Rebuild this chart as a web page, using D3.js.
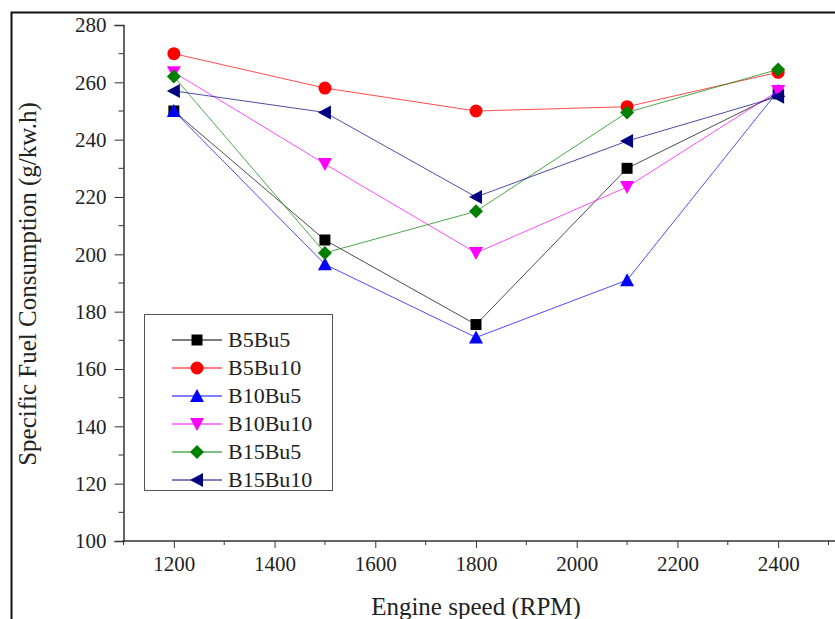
<!DOCTYPE html>
<html>
<head>
<meta charset="utf-8">
<script src="https://cdn.jsdelivr.net/npm/d3@7"></script>
<style>
  body { margin: 0; background: #fff; }
  text { font-family: "Liberation Serif", "Times New Roman", serif; fill: #222; }
</style>
</head>
<body>
<div id="chart-area"></div>
<script>
// data
var speeds = [1200, 1500, 1800, 2100, 2400];
var seriesNames = ['B5Bu5', 'B5Bu10', 'B10Bu5', 'B10Bu10', 'B15Bu5', 'B15Bu10'];
var b5bu5 = [250, 205, 175.5, 230, 256];
var b5bu10 = [270, 258, 250, 251.5, 263.5];
var b10bu5 = [250, 196.5, 171, 191, 257];
var b10bu10 = [263.5, 231.5, 200.5, 223.5, 257];
var b15bu5 = [262, 200.5, 215, 249.5, 264.5];
var b15bu10 = [257, 249.5, 220, 239.5, 255];
var xTicks = [1200, 1400, 1600, 1800, 2000, 2200, 2400];
var yTicks = [100, 120, 140, 160, 180, 200, 220, 240, 260, 280];

var colors = ['#000000', '#ff0000', '#0000ff', '#ff00ff', '#008000', '#000080'];
var symbols = ['square', 'circle', 'up', 'down', 'diamond', 'left'];

var series = [b5bu5, b5bu10, b10bu5, b10bu10, b15bu5, b15bu10].map(function(vals, i) {
  return {
    name: seriesNames[i],
    color: colors[i],
    symbol: symbols[i],
    values: vals.map(function(v, j) { return { x: speeds[j], y: v }; })
  };
});

var W = 835, H = 619;

var svg = d3.select('#chart-area')
  .append('svg')
  .attr('width', W)
  .attr('height', H);

// outer frame
svg.append('rect')
  .attr('x', 11.5)
  .attr('y', 12.5)
  .attr('width', W)
  .attr('height', H)
  .attr('fill', 'none')
  .attr('stroke', '#111')
  .attr('stroke-width', 2);

var x = d3.scaleLinear()
  .domain([1100, 2500])
  .range([123.5, 828.5]);

var y = d3.scaleLinear()
  .domain([100, 280])
  .range([541, 25]);

// minor ticks
var xMinor = d3.range(1100, 2501, 100).filter(function(d) { return d % 200 !== 0; });
var yMinor = d3.range(110, 280, 20);

var gx = svg.append('g')
  .attr('transform', 'translate(0,' + y(100) + ')');

gx.append('line')
  .attr('x1', x(1100) - 1).attr('x2', W)
  .attr('y1', 0).attr('y2', 0)
  .attr('stroke', '#333').attr('stroke-width', 1.5);

gx.call(d3.axisBottom(x).tickValues(xTicks).tickSize(7).tickPadding(8).tickFormat(d3.format('d')))
  .call(function(g) { g.select('.domain').remove(); });

gx.selectAll('.minor')
  .data(xMinor)
  .enter().append('line')
    .attr('x1', function(d) { return x(d); })
    .attr('x2', function(d) { return x(d); })
    .attr('y1', 0).attr('y2', 4)
    .attr('stroke', '#333');

var gy = svg.append('g')
  .attr('transform', 'translate(' + x(1100) + ',0)');

gy.call(d3.axisLeft(y).tickValues(yTicks).tickSize(9).tickPadding(8).tickFormat(d3.format('d')));

gy.select('.domain')
  .attr('stroke', '#333').attr('stroke-width', 1.5);

gy.selectAll('.minor')
  .data(yMinor)
  .enter().append('line')
    .attr('x1', -5).attr('x2', 0)
    .attr('y1', function(d) { return y(d); })
    .attr('y2', function(d) { return y(d); })
    .attr('stroke', '#333');

svg.selectAll('.tick text')
  .attr('font-size', '21px')
  .attr('fill', '#333');
svg.selectAll('.tick line').attr('stroke', '#333');

// axis titles
svg.append('text')
  .attr('x', 476)
  .attr('y', 615)
  .attr('text-anchor', 'middle')
  .attr('font-size', '25px')
  .text('Engine speed (RPM)');

svg.append('text')
  .attr('transform', 'translate(36,284) rotate(-90)')
  .attr('text-anchor', 'middle')
  .attr('font-size', '25px')
  .text('Specific Fuel Consumption (g/kw.h)');

function marker(sel, symbol, color) {
  if (symbol === 'circle') {
    sel.append('circle').attr('r', 6.5).attr('fill', color);
  } else if (symbol === 'square') {
    sel.append('rect').attr('x', -5.5).attr('y', -5.5).attr('width', 11).attr('height', 11).attr('fill', color);
  } else {
    var pts = {
      up: [[0, -7], [7, 6], [-7, 6]],
      down: [[0, 7], [7, -6], [-7, -6]],
      left: [[-7, 0], [6, -7], [6, 7]],
      diamond: [[0, -7], [7, 0], [0, 7], [-7, 0]]
    }[symbol];
    sel.append('polygon')
      .attr('points', pts.map(function(p) { return p.join(','); }).join(' '))
      .attr('fill', color);
  }
}

var line = d3.line()
  .x(function(d) { return x(d.x); })
  .y(function(d) { return y(d.y); });

var plot = svg.append('g');

series.forEach(function(s) {
  plot.append('path')
    .datum(s.values)
    .attr('fill', 'none')
    .attr('stroke', s.color)
    .attr('stroke-opacity', 0.7)
    .attr('stroke-width', 1)
    .attr('d', line);

  plot.selectAll('.pt-' + s.name)
    .data(s.values)
    .enter().append('g')
      .attr('transform', function(d) { return 'translate(' + x(d.x) + ',' + y(d.y) + ')'; })
      .each(function() { marker(d3.select(this), s.symbol, s.color); });
});

// legend
var legend = svg.append('g');

legend.append('rect')
  .attr('x', 144.5)
  .attr('y', 314.5)
  .attr('width', 188)
  .attr('height', 176)
  .attr('fill', '#fff')
  .attr('stroke', '#555')
  .attr('stroke-width', 1);

series.forEach(function(s, i) {
  var ly = 340 + i * 28;
  var row = legend.append('g');
  row.append('line')
    .attr('x1', 172).attr('x2', 222)
    .attr('y1', ly).attr('y2', ly)
    .attr('stroke', s.color)
    .attr('stroke-width', 1);
  marker(row.append('g').attr('transform', 'translate(197,' + ly + ')'), s.symbol, s.color);
  row.append('text')
    .attr('x', 228)
    .attr('y', ly + 7)
    .attr('font-size', '22px')
    .text(s.name);
});
</script>
</body>
</html>
